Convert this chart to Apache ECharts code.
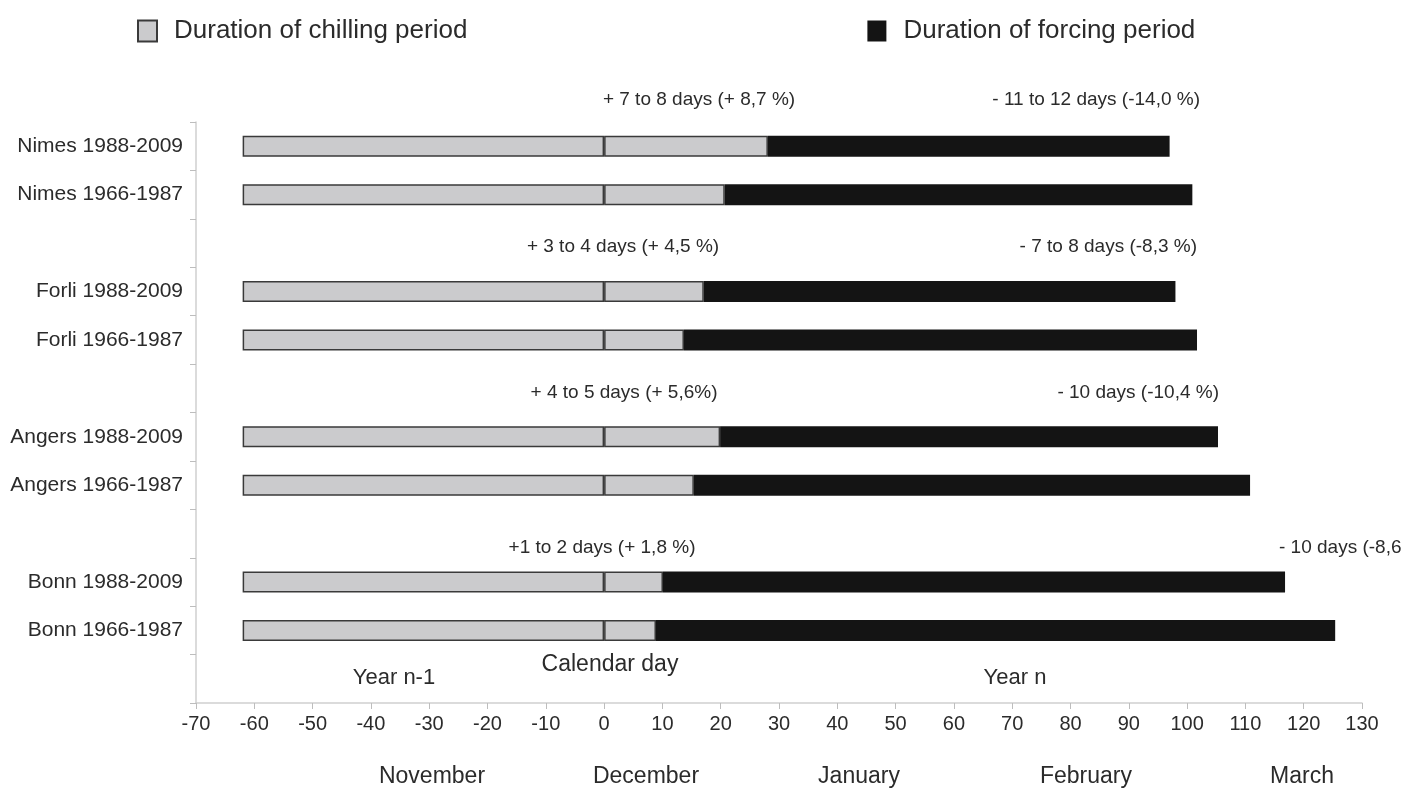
<!DOCTYPE html>
<html>
<head>
<meta charset="utf-8">
<script src="https://cdn.jsdelivr.net/npm/echarts@6/dist/echarts.min.js"></script>
<style>
html,body{margin:0;padding:0;background:#fff;}
#chart{width:1424px;height:792px;}
</style>
</head>
<body>
<div id="chart"></div>
<script>
// ---- data ----
const categories = ['Nimes 1988-2009','Nimes 1966-1987','','Forli 1988-2009','Forli 1966-1987','','Angers 1988-2009','Angers 1966-1987','','Bonn 1988-2009','Bonn 1966-1987',''];
const chillStart = [-62, -62, null, -62, -62, null, -62, -62, null, -62, -62, null];
const chillEnd   = [28.1, 20.7, null, 17.1, 13.7, null, 19.9, 15.4, null, 10.1, 8.9, null];
const forceEnd   = [97.0, 100.9, null, 98.0, 101.7, null, 105.3, 110.8, null, 116.8, 125.4, null];
const xTicks = [-70,-60,-50,-40,-30,-20,-10,0,10,20,30,40,50,60,70,80,90,100,110,120,130];
const months = ['November','December','January','February','March'];
const chillChange = ['+ 7 to 8 days (+ 8,7 %)','+ 3 to 4 days (+ 4,5 %)','+ 4 to 5 days (+ 5,6%)','+1 to 2 days (+ 1,8 %)'];
const forceChange = ['- 11 to 12 days (-14,0 %)','- 7 to 8 days (-8,3 %)','- 10 days (-10,4 %)','- 10 days (-8,6'];
const seriesNames = ['Duration of chilling period','Duration of forcing period'];

// ---- derived ----
const chillBefore = chillStart.map(v => v == null ? '-' : v);
const chillAfter = chillEnd.map(v => v == null ? '-' : v);
const forcing = forceEnd.map((v, i) => v == null ? '-' : +(v - chillEnd[i]).toFixed(2));

const FONT = '"Liberation Sans", Arial, Helvetica, sans-serif';
const TXT = '#2b2b2b';

const chart = echarts.init(document.getElementById('chart'), null, {renderer: 'canvas'});

const chillStyle = {color: '#cbcbcd', borderColor: '#3a3a3a', borderWidth: 1.5};
const forceStyle = {color: '#141414', borderColor: '#141414', borderWidth: 0};

function txt(text, x, y, size, align) {
  return {type: 'text', x: x, y: y, style: {text: text, fill: TXT, font: size + 'px ' + FONT, textAlign: align || 'center', textVerticalAlign: 'middle'}};
}

const monthX = [432, 646, 859, 1086, 1302];
const annY = [100, 247, 393, 548];
const annChillX = [699, 623, 624, 602];
const annForceRight = [1200, 1197, 1219, null];

const graphics = [];
months.forEach((m, i) => graphics.push(txt(m, monthX[i], 777, 23)));
graphics.push(txt('Calendar day', 610, 665, 23));
graphics.push(txt('Year n-1', 394, 678, 22));
graphics.push(txt('Year n', 1015, 678, 22));
chillChange.forEach((t, i) => graphics.push(txt(t, annChillX[i], annY[i], 19)));
forceChange.forEach((t, i) => {
  if (annForceRight[i] != null) graphics.push(txt(t, annForceRight[i], annY[i], 19, 'right'));
  else graphics.push(txt(t, 1279, annY[i], 19, 'left'));
});

chart.setOption({
  animation: false,
  backgroundColor: '#ffffff',
  legend: {
    left: 132, top: 13,
    itemWidth: 19, itemHeight: 21,
    itemGap: 400,
    icon: 'rect',
    data: seriesNames,
    textStyle: {fontFamily: FONT, fontSize: 26, color: TXT, padding: [0, 0, 0, 12]}
  },
  grid: {left: 196, right: 62, top: 122, bottom: 89, containLabel: false},
  xAxis: {
    type: 'value',
    min: -70, max: 130, interval: 10,
    axisLine: {show: true, onZero: false, lineStyle: {color: '#cfcfcf', width: 1.5}},
    axisTick: {show: true, length: 6, lineStyle: {color: '#bdbdbd'}},
    splitLine: {show: false},
    axisLabel: {
      margin: 11, fontFamily: FONT, fontSize: 20, color: TXT,
      formatter: v => xTicks.indexOf(v) >= 0 ? String(v) : ''
    }
  },
  yAxis: {
    type: 'category',
    inverse: true,
    data: categories,
    axisLine: {show: true, onZero: false, lineStyle: {color: '#cfcfcf', width: 1.5}},
    axisTick: {show: true, length: 6, alignWithLabel: false, interval: 0, lineStyle: {color: '#bdbdbd'}},
    axisLabel: {margin: 13, fontFamily: FONT, fontSize: 21, color: TXT, interval: 0}
  },
  series: [
    {name: seriesNames[0], type: 'bar', stack: 'p', barWidth: 21, data: chillBefore, itemStyle: chillStyle},
    {name: seriesNames[0], type: 'bar', stack: 'p', barWidth: 21, data: chillAfter, itemStyle: chillStyle},
    {name: seriesNames[1], type: 'bar', stack: 'p', barWidth: 21, data: forcing, itemStyle: forceStyle}
  ],
  graphic: graphics
});
</script>
</body>
</html>
